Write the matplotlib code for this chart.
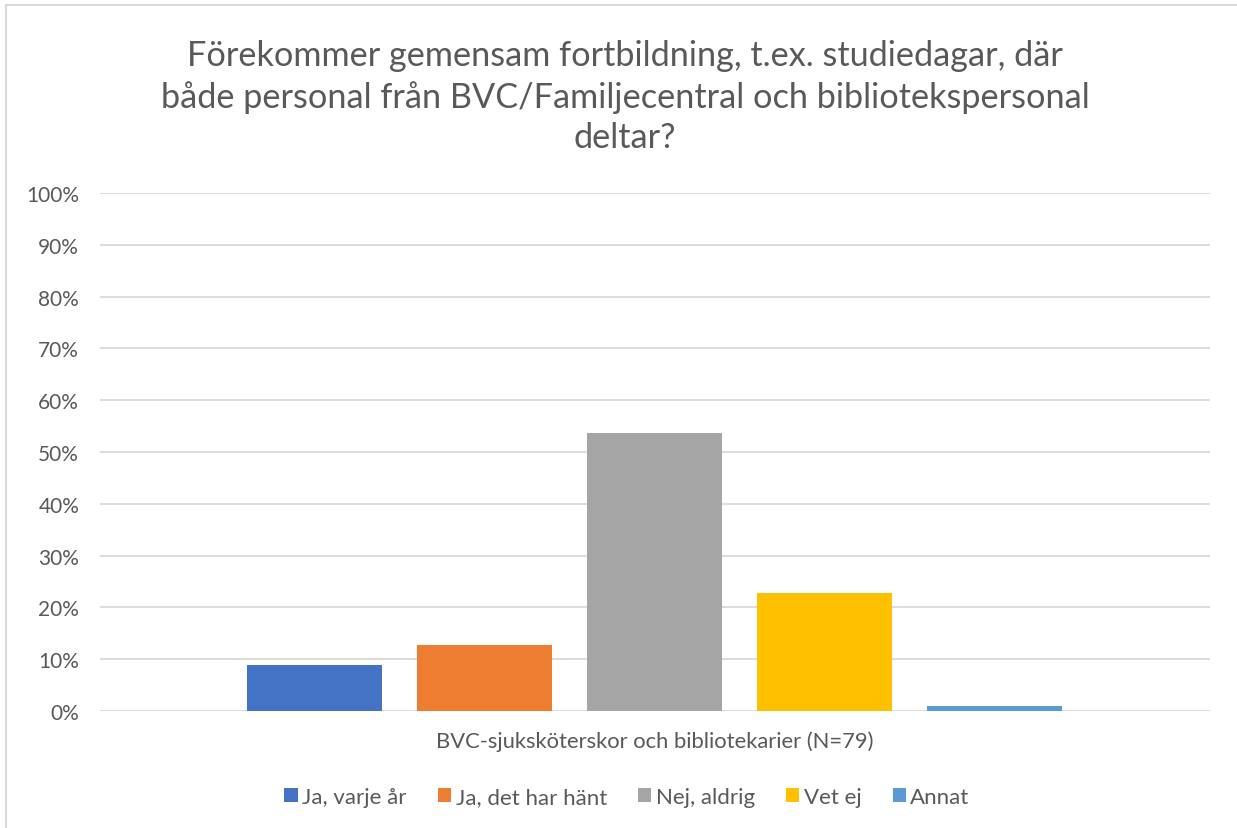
import matplotlib.pyplot as plt
from matplotlib.patches import Rectangle, Patch
from matplotlib.ticker import PercentFormatter, MultipleLocator

plt.rcParams['font.family'] = ['Lato', 'DejaVu Sans']

categories = ["Ja, varje år", "Ja, det har hänt", "Nej, aldrig", "Vet ej", "Annat"]
values = [8.9, 12.7, 53.7, 22.8, 0.9]
colors = ["#4472C4", "#ED7D31", "#A5A5A5", "#FFC000", "#5B9BD5"]
group_label = "BVC-sjuksköterskor och bibliotekarier (N=79)"
title = ("Förekommer gemensam fortbildning, t.ex. studiedagar, där\n"
         "både personal från BVC/Familjecentral och bibliotekspersonal\n"
         "deltar?")

W, H = 1237, 829
fig = plt.figure(figsize=(W / 100, H / 100), dpi=100)
ax = fig.add_axes([100 / W, 1 - 712 / H, 1110 / W, 518 / H])

xs = range(len(categories))
ax.bar(xs, values, width=0.794, color=colors, zorder=3)

ax.set_xlim(-1.26, 5.27)
ax.set_ylim(0, 100)
ax.yaxis.set_major_locator(MultipleLocator(10))
ax.yaxis.set_major_formatter(PercentFormatter(decimals=0))
ax.grid(axis='y', color='#D9D9D9', linewidth=1.3, zorder=0)
ax.set_xticks([])
for s in ax.spines.values():
    s.set_visible(False)
ax.tick_params(axis='y', length=0, pad=15, labelsize=15, labelcolor='#595959')

ax.set_xlabel(group_label, fontsize=15.8, color='#595959', labelpad=14)

fig.text(625 / W, 1 - 97 / H, title, ha='center', va='center', fontsize=24.7,
         color='#595959', linespacing=1.34)

handles = [Patch(facecolor=c, label=l) for c, l in zip(colors, categories)]
fig.legend(handles=handles, loc='center', bbox_to_anchor=(627 / W, 1 - 798 / H),
           ncol=5, frameon=False, fontsize=16, labelcolor='#595959',
           handlelength=0.6, handleheight=0.6, handletextpad=0.2, columnspacing=1.4)

fig.patches.append(Rectangle((6 / W, -0.1), 1.2, 1 - 6 / H + 0.1, transform=fig.transFigure,
                             fill=False, edgecolor='#D9D9D9', linewidth=1.5))

fig.savefig("out.png", dpi=100)
